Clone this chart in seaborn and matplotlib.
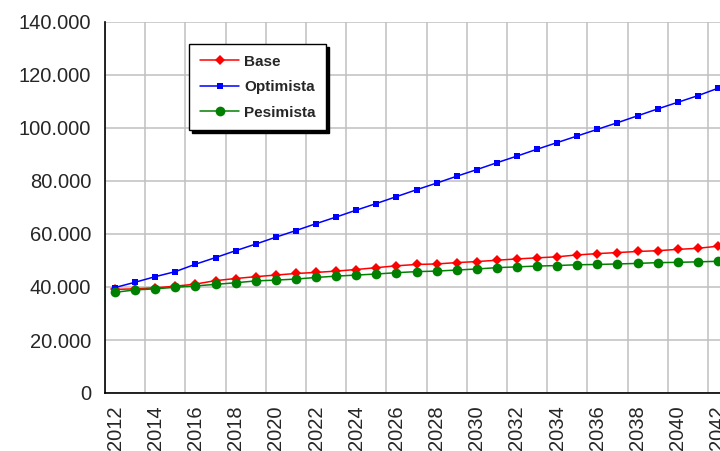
import matplotlib
matplotlib.use("Agg")
import matplotlib.pyplot as plt
import matplotlib.ticker as mticker
import seaborn as sns
import pandas as pd

# values
years = list(range(2012, 2043))
base = [39100, 39300, 39700, 40300, 41100, 42400, 43200, 43900, 44500, 45100,
        45500, 46000, 46600, 47300, 48000, 48500, 48700, 49200, 49600, 50100,
        50600, 51000, 51400, 52100, 52600, 53000, 53400, 53700, 54200, 54600, 55400]
optimista = [39800, 41800, 43900, 45800, 48600, 51100, 53700, 56200, 58800, 61300,
             63900, 66400, 69000, 71500, 74100, 76700, 79200, 81800, 84300, 86900,
             89400, 92000, 94500, 97000, 99500, 102000, 104600, 107200, 109700, 112200, 115000]
pesimista = [38000, 38900, 39300, 39900, 40400, 41000, 41600, 42300, 42600, 43000,
             43600, 44100, 44500, 44900, 45400, 45800, 46000, 46400, 46800, 47300,
             47600, 47900, 48100, 48400, 48500, 48700, 48900, 49200, 49300, 49500, 49700]

df = pd.DataFrame({"year": years, "Base": base, "Optimista": optimista, "Pesimista": pesimista})

sns.set_style("white")
plt.rcParams["font.family"] = ["Liberation Sans", "DejaVu Sans"]

fig = plt.figure(figsize=(7.2, 4.51), dpi=100)
ax = fig.add_axes([105 / 720, 1 - 393 / 451, 623 / 720, 371 / 451])

sns.lineplot(data=df, x="year", y="Base", ax=ax, color="#ff0000", marker="D",
             markersize=5.5, markeredgewidth=0, linewidth=1.1, label="Base")
sns.lineplot(data=df, x="year", y="Optimista", ax=ax, color="#0000ff", marker="s",
             markersize=5, markeredgewidth=0, linewidth=1.1, label="Optimista")
sns.lineplot(data=df, x="year", y="Pesimista", ax=ax, color="#008000", marker="o",
             markersize=7, markeredgewidth=0, linewidth=1.1, label="Pesimista")

ax.set_xlim(2011.5, 2042.5)
ax.set_ylim(0, 140000)
ax.set_xlabel("")
ax.set_ylabel("")

# category-style axis: ticks/grid at boundaries, labels at categories
ax.set_xticks([y - 0.5 for y in years[::2]])
ax.set_xticklabels([])
ax.set_xticks(years[::2], minor=True)
ax.set_xticklabels([str(y) for y in years[::2]], minor=True, rotation=90)
ax.tick_params(axis="x", which="major", length=6, width=1, direction="out", color="black")
ax.tick_params(axis="x", which="minor", length=0, pad=9, labelsize=14.5)
ax.set_yticks(range(0, 140001, 20000))
ax.yaxis.set_major_formatter(mticker.FuncFormatter(lambda v, p: f"{v:,.0f}".replace(",", ".")))
ax.tick_params(axis="y", length=6, width=1, direction="out", color="black", labelsize=14.5, pad=4)

ax.grid(True, which="major", color="#c0c0c0", linewidth=1.1)
ax.set_axisbelow(True)
for s in ["top", "right"]:
    ax.spines[s].set_visible(False)
for s in ["left", "bottom"]:
    ax.spines[s].set_color("black")
    ax.spines[s].set_linewidth(1.2)

leg = ax.legend(loc="upper left", bbox_to_anchor=(189 / 720, 1 - 44 / 451),
                bbox_transform=fig.transFigure, borderaxespad=0, frameon=True,
                fancybox=False, edgecolor="black", framealpha=1,
                shadow={"facecolor": "black", "edgecolor": "black", "alpha": 1},
                prop={"weight": "bold", "size": 11}, handlelength=2.6,
                labelspacing=0.75, borderpad=0.7, handletextpad=0.3)
leg.get_frame().set_linewidth(1)

fig.savefig("out.png", dpi=100)
